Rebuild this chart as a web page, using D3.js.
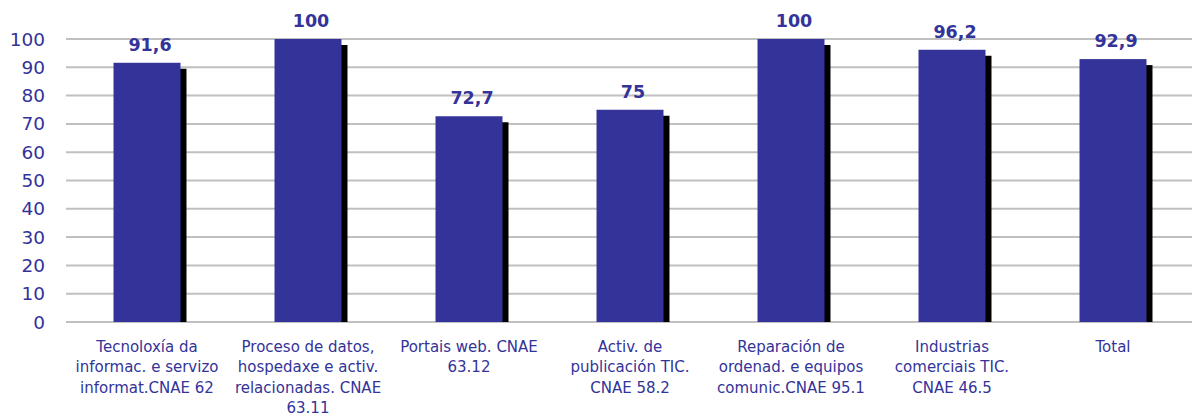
<!DOCTYPE html>
<html>
<head>
<meta charset="utf-8">
<script src="https://cdn.jsdelivr.net/npm/d3@7"></script>
<style>
  html, body { margin: 0; padding: 0; background: #fff; }
  svg { display: block; }
</style>
</head>
<body>
<svg id="chart" width="1192" height="417"></svg>
<script>
const categories = [
  "Tecnoloxía da informac. e servizo informat.CNAE 62",
  "Proceso de datos, hospedaxe e activ. relacionadas. CNAE 63.11",
  "Portais web. CNAE 63.12",
  "Activ. de publicación TIC. CNAE 58.2",
  "Reparación de ordenad. e equipos comunic.CNAE 95.1",
  "Industrias comerciais TIC. CNAE 46.5",
  "Total"
];
const categoryLines = [
  ["Tecnoloxía da", "informac. e servizo", "informat.CNAE 62"],
  ["Proceso de datos,", "hospedaxe e activ.", "relacionadas. CNAE", "63.11"],
  ["Portais web. CNAE", "63.12"],
  ["Activ. de", "publicación TIC.", "CNAE 58.2"],
  ["Reparación de", "ordenad. e equipos", "comunic.CNAE 95.1"],
  ["Industrias", "comerciais TIC.", "CNAE 46.5"],
  ["Total"]
];
const values = [91.6, 100, 72.7, 75, 100, 96.2, 92.9];
const yTicks = [0, 10, 20, 30, 40, 50, 60, 70, 80, 90, 100];

const color = "#333399";
const font = "'DejaVu Sans', Verdana, sans-serif";
const svg = d3.select("#chart");

const x = d3.scaleBand().domain(categories).range([66.5, 1193.5])
  .paddingInner(0.584).paddingOuter(0.292);
const y = d3.scaleLinear().domain([0, 100]).range([322, 39]);

// gridlines
svg.append("g").selectAll("line").data(yTicks).join("line")
  .attr("x1", 66).attr("x2", 1192)
  .attr("y1", d => y(d)).attr("y2", d => y(d))
  .attr("stroke", "#c0c0c0").attr("stroke-width", 2);

// y tick labels
svg.append("g").selectAll("text").data(yTicks).join("text")
  .attr("x", 45).attr("y", d => y(d))
  .attr("text-anchor", "end").attr("dominant-baseline", "central")
  .attr("font-family", font).attr("font-size", 18.5).attr("fill", color)
  .text(d => d);

const data = categories.map((c, i) => ({c, v: values[i], lines: categoryLines[i]}));
const bw = x.bandwidth();
const sh = 6;

// shadows
svg.append("g").selectAll("rect").data(data).join("rect")
  .attr("x", d => x(d.c) + sh).attr("width", bw)
  .attr("y", d => y(d.v) + sh).attr("height", d => y(0) - y(d.v) - sh)
  .attr("fill", "#000");

// bars
svg.append("g").selectAll("rect").data(data).join("rect")
  .attr("x", d => x(d.c)).attr("width", bw)
  .attr("y", d => y(d.v)).attr("height", d => y(0) - y(d.v))
  .attr("fill", color);

// value labels
const fmt = d => String(d).replace(".", ",");
svg.append("g").selectAll("text").data(data).join("text")
  .attr("x", d => x(d.c) + bw / 2 + 3).attr("y", d => y(d.v) - 12)
  .attr("text-anchor", "middle")
  .attr("font-family", font).attr("font-size", 17.5).attr("font-weight", "bold")
  .attr("fill", color)
  .text(d => fmt(d.v));

// category labels
const cg = svg.append("g").selectAll("text").data(data).join("text")
  .attr("text-anchor", "middle")
  .attr("font-family", font).attr("font-size", 15).attr("fill", color);
cg.selectAll("tspan").data(d => d.lines.map(l => ({l, cx: x(d.c) + bw / 2}))).join("tspan")
  .attr("x", d => d.cx).attr("y", (d, i) => 351.5 + i * 20.6)
  .text(d => d.l);
</script>
</body>
</html>
